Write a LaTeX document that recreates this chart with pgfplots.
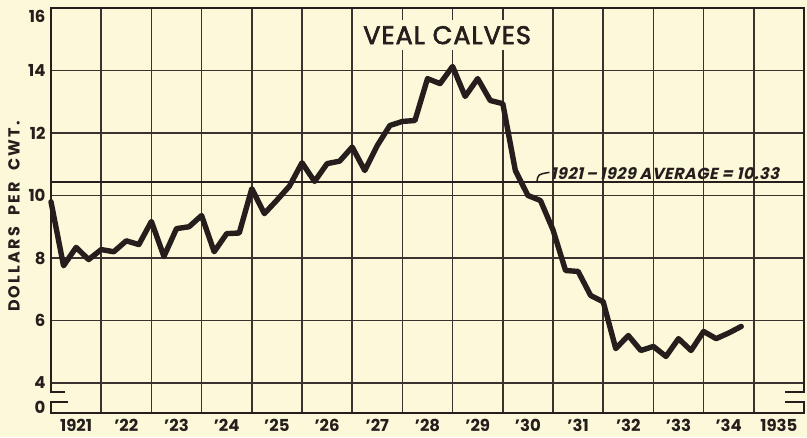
\documentclass[border=0pt]{standalone}
\usepackage{fontspec}
\setmainfont{Poppins}
\newfontfamily\slantfont[FakeSlant=0.22,LetterSpace=3]{Poppins}
\newfontfamily\titlefont[FakeBold=2.5,LetterSpace=4]{Poppins}
\newfontfamily\ylabfont[LetterSpace=14]{Poppins}
\usepackage{pgfplots}
\pgfplotsset{compat=1.18}
\usetikzlibrary{backgrounds}
\definecolor{bg}{RGB}{251,249,218}
\definecolor{ink}{RGB}{38,30,28}
\definecolor{gridc}{RGB}{58,50,46}
\begin{document}
\begin{tikzpicture}
\begin{axis}[
  scale only axis, width=753pt, height=405pt,
  xmin=1921, xmax=1936, ymin=3.04, ymax=16,
  clip=false,
  axis line style={draw=none},
  xtick={1921.5,1922.5,...,1935.5},
  xticklabels={1921,'22,'23,'24,'25,'26,'27,'28,'29,'30,'31,'32,'33,'34,1935},
  ytick={4,6,8,10,12,14},
  yticklabels={4,6,8,10,12,14},
  extra y ticks={3.23,15.74},
  extra y tick labels={0,16},
  extra y tick style={grid=none},
  ymajorgrids,
  major tick length=0pt, minor tick length=0pt,
  grid style={line width=1.5pt, gridc},
  tick label style={font=\fontsize{16.5}{16.5}\selectfont\bfseries, text=ink},
  xticklabel style={yshift=-3pt},
  yticklabel style={xshift=-2pt},
  /pgf/number format/assume math mode=true,
]
\coordinate (SW) at (rel axis cs:0,0);
\coordinate (NE) at (rel axis cs:1,1);
% vertical grid lines (one per year)
\pgfplotsinvokeforeach{1922,1923,1924,1925,1926,1927,1928,1929,1930,1931,1932,1933,1934,1935}{
  \draw[gridc, line width=1.5pt] (axis cs:#1,3.04) -- (axis cs:#1,16);
}
% frame with axis breaks
\draw[ink, line width=2.4pt, line join=miter]
  (axis cs:1921.28,3.71) -- (axis cs:1921,3.71) -- (axis cs:1921,16) -- (axis cs:1936,16) -- (axis cs:1936,3.71) -- (axis cs:1935.62,3.71);
\draw[ink, line width=2.4pt, line join=miter]
  (axis cs:1921.34,3.39) -- (axis cs:1921,3.39) -- (axis cs:1921,3.04) -- (axis cs:1936,3.04) -- (axis cs:1936,3.39) -- (axis cs:1935.62,3.39);
% average line
\addplot[ink, line width=2.4pt] coordinates {(1921,10.43) (1936,10.43)};
% data
\addplot[ink, line width=5.4pt, line join=round, line cap=round] table {
x y
1921.00 9.80
1921.25 7.75
1921.50 8.34
1921.75 7.95
1922.00 8.27
1922.25 8.20
1922.50 8.55
1922.75 8.43
1923.00 9.17
1923.25 8.05
1923.50 8.94
1923.75 9.00
1924.00 9.36
1924.25 8.20
1924.50 8.78
1924.75 8.80
1925.00 10.22
1925.25 9.42
1925.50 9.85
1925.75 10.30
1926.00 11.05
1926.25 10.45
1926.50 11.02
1926.75 11.10
1927.00 11.55
1927.25 10.80
1927.50 11.60
1927.75 12.24
1928.00 12.37
1928.25 12.40
1928.50 13.74
1928.75 13.58
1929.00 14.13
1929.25 13.17
1929.50 13.74
1929.75 13.04
1930.00 12.94
1930.25 10.80
1930.50 10.00
1930.75 9.84
1931.00 8.90
1931.25 7.60
1931.50 7.57
1931.75 6.80
1932.00 6.60
1932.25 5.10
1932.50 5.52
1932.75 5.04
1933.00 5.17
1933.25 4.85
1933.50 5.42
1933.75 5.04
1934.00 5.65
1934.25 5.42
1934.50 5.60
1934.75 5.81
};
% annotation
\draw[ink, line width=1.5pt] (axis cs:1930.68,10.43) .. controls (axis cs:1930.70,10.68) .. (axis cs:1930.93,10.74);
\node[anchor=west, inner sep=0pt, text=ink, font=\slantfont\fontsize{16}{16}\selectfont\bfseries] at (axis cs:1930.95,10.70) {1921\,–\,1929 AVERAGE = 10.33};
% title
\node[fill=bg, inner xsep=6pt, inner ysep=6pt, text=ink, font=\titlefont\fontsize{25.5}{25.5}\selectfont] at (axis cs:1928.89,15.13) {VEAL CALVES};
% y label
\node[rotate=90, text=ink, font=\ylabfont\fontsize{16}{16}\selectfont\bfseries] at ([xshift=-37pt]rel axis cs:0,0.485) {DOLLARS\ \ PER\ \ CWT.};
\end{axis}
\pgfresetboundingbox
\path ([shift={(-51pt,-24pt)}]SW) rectangle ([shift={(3pt,8pt)}]NE);
\begin{scope}[on background layer]
\fill[bg] ([shift={(-51pt,-24pt)}]SW) rectangle ([shift={(3pt,8pt)}]NE);
\end{scope}
\end{tikzpicture}
\end{document}
